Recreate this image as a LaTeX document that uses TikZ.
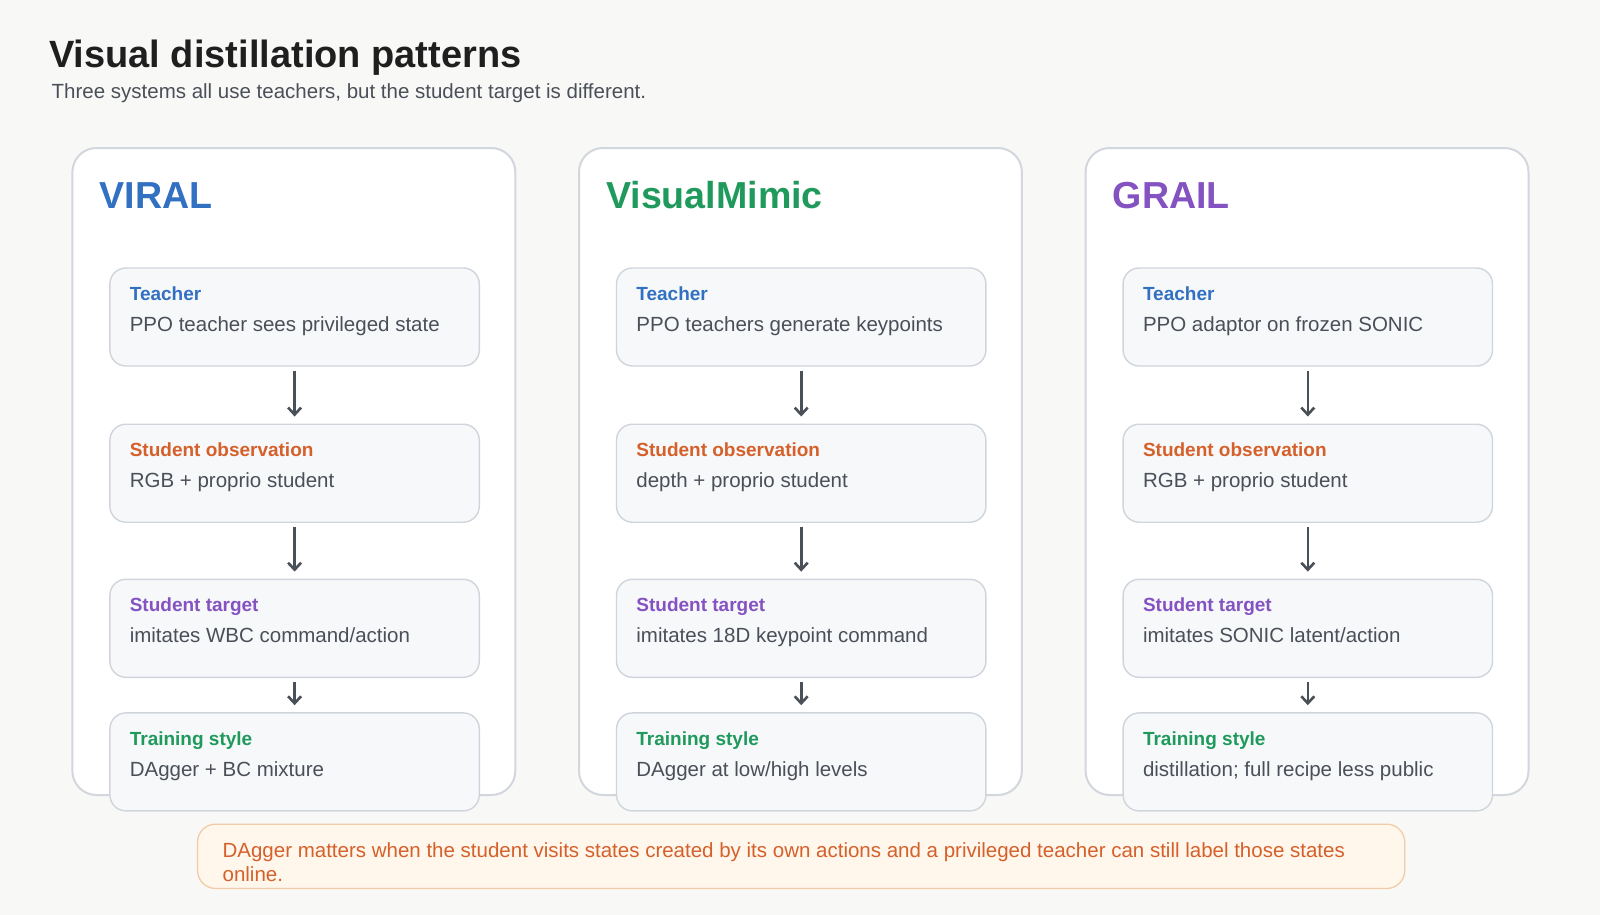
\documentclass[tikz,border=0pt]{standalone}
\usepackage{fontspec}
\setmainfont{Liberation Sans}
\usetikzlibrary{arrows.meta,calc}
\definecolor{bg}{HTML}{F8F8F7}
\definecolor{panelline}{HTML}{D2D6DD}
\definecolor{boxline}{HTML}{D0D5DC}
\definecolor{boxfill}{HTML}{F6F8FA}
\definecolor{bodytext}{HTML}{4B5058}
\definecolor{titletext}{HTML}{1F1F1F}
\definecolor{cblue}{HTML}{3270C2}
\definecolor{cgreen}{HTML}{1F9A5C}
\definecolor{cpurple}{HTML}{8552C2}
\definecolor{corange}{HTML}{D6602A}
\definecolor{arrowc}{HTML}{4A5058}
\definecolor{notefill}{HTML}{FFF6EC}
\definecolor{noteline}{HTML}{F3CBA6}
\newcommand\mkstep[6]{%
  \node[stepbox] (#1) at (#2,#3) {};
  \node[head,text=#4] (#1h) at ($(#1.north west)+(20.4,33)$) {#5};
  \node[body] (#1b) at ($(#1.north west)+(20.4,64.3)$) {#6};
}
\begin{document}
\begin{tikzpicture}[x=1pt,y=-1pt,
  panel/.style={draw=panelline, line width=2pt, fill=white, rounded corners=24pt},
  stepbox/.style={draw=boxline, line width=1.4pt, fill=boxfill, rounded corners=16pt,
    minimum width=369.4pt, minimum height=98pt, inner sep=0pt, anchor=north west},
  head/.style={font=\fontsize{19}{23}\selectfont\bfseries, anchor=base west, inner sep=0pt},
  body/.style={font=\fontsize{20.5}{24}\selectfont, text=bodytext, anchor=base west, inner sep=0pt},
  ptitle/.style={font=\fontsize{37.6}{44}\selectfont\bfseries, anchor=base west, inner sep=0pt},
  arr/.style={draw=arrowc, line width=2.6pt, -{Straight Barb[length=7pt,width=13pt]},
    shorten <=4pt, shorten >=7pt}
]
\useasboundingbox (0,0) rectangle (1600,915);
\fill[bg] (0,0) rectangle (1600,915);

% title
\node[font=\fontsize{38}{44}\selectfont\bfseries, text=titletext, anchor=base west, inner sep=0pt]
  (title) at (49,68) {Visual distillation patterns};
\node[font=\fontsize{20.5}{24}\selectfont, text=bodytext, anchor=base west, inner sep=0pt]
  (subtitle) at (51.5,99) {Three systems all use teachers, but the student target is different.};

% panels
\draw[panel] (72.4,148) rectangle (515.3,795);
\draw[panel] (579,148) rectangle (1021.9,795);
\draw[panel] (1085.6,148) rectangle (1528.5,795);

\node[ptitle,text=cblue] (t1) at (99.5,208.5) {VIRAL};
\node[ptitle,text=cgreen] (t2) at (606,208.5) {VisualMimic};
\node[ptitle,text=cpurple] (t3) at (1112.6,208.5) {GRAIL};

% column 1
\mkstep{a1}{109.2}{267.3}{cblue}{Teacher}{PPO teacher sees privileged state}
\mkstep{a2}{109.2}{423.5}{corange}{Student observation}{RGB + proprio student}
\mkstep{a3}{109.2}{578.6}{cpurple}{Student target}{imitates WBC command/action}
\mkstep{a4}{109.2}{712.2}{cgreen}{Training style}{DAgger + BC mixture}
% column 2
\mkstep{b1}{615.8}{267.3}{cblue}{Teacher}{PPO teachers generate keypoints}
\mkstep{b2}{615.8}{423.5}{corange}{Student observation}{depth + proprio student}
\mkstep{b3}{615.8}{578.6}{cpurple}{Student target}{imitates 18D keypoint command}
\mkstep{b4}{615.8}{712.2}{cgreen}{Training style}{DAgger at low/high levels}
% column 3
\mkstep{c1}{1122.4}{267.3}{cblue}{Teacher}{PPO adaptor on frozen SONIC}
\mkstep{c2}{1122.4}{423.5}{corange}{Student observation}{RGB + proprio student}
\mkstep{c3}{1122.4}{578.6}{cpurple}{Student target}{imitates SONIC latent/action}
\mkstep{c4}{1122.4}{712.2}{cgreen}{Training style}{distillation; full recipe less public}

% arrows
\foreach \c in {a,b,c}{
  \draw[arr] (\c1.south) -- (\c2.north);
  \draw[arr] (\c2.south) -- (\c3.north);
  \draw[arr] (\c3.south) -- (\c4.north);
}

% note
\node[draw=noteline, line width=1.3pt, fill=notefill, rounded corners=18pt,
  minimum width=1207.2pt, minimum height=64.3pt, inner sep=0pt, anchor=north west]
  (note) at (196.9,823.5) {};
\node[font=\fontsize{20.5}{24.6}\selectfont, text=corange, align=left, anchor=north west, inner sep=0pt]
  (notetext) at ($(note.north west)+(25.5,18.5)$)
  {DAgger matters when the student visits states created by its own actions and a privileged teacher can still label those states\\online.};
\end{tikzpicture}
\end{document}
